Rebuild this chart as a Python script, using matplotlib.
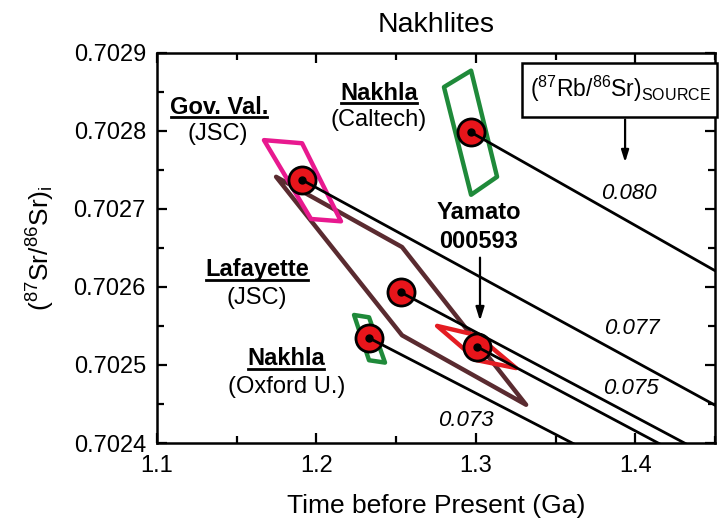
import numpy as np
import matplotlib
matplotlib.use("Agg")
import matplotlib.pyplot as plt
from matplotlib.patches import Polygon, Rectangle
from matplotlib.lines import Line2D

plt.rcParams['font.family'] = ['Liberation Sans', 'DejaVu Sans']
plt.rcParams['mathtext.default'] = 'regular'

# ---------------- data ----------------
sample_names = ["Gov. Val. (JSC)", "Nakhla (Caltech)", "Lafayette (JSC)",
                "Nakhla (Oxford U.)", "Yamato 000593"]
ages = [1.191, 1.297, 1.253, 1.233, 1.301]                 # Ga
sr_initial = [0.702737, 0.702798, 0.702593, 0.7025345, 0.702523]
rb_sr_source = [0.077, 0.080, 0.075, 0.073, 0.075]
decay_const = 0.0142                                       # per Ga

# error envelopes (time, Sr) per sample
govval_box_t = [1.1671, 1.1910, 1.2154, 1.1966]
govval_box_sr = [0.702788, 0.702784, 0.702684, 0.702687]
caltech_box_t = [1.2800, 1.2970, 1.3133, 1.2970]
caltech_box_sr = [0.702856, 0.702877, 0.702741, 0.702718]
lafayette_box_t = [1.1747, 1.2537, 1.3315, 1.2537]
lafayette_box_sr = [0.702741, 0.702651, 0.702449, 0.702538]
oxford_box_t = [1.2236, 1.2330, 1.2430, 1.2330]
oxford_box_sr = [0.702564, 0.702561, 0.702503, 0.702506]
yamato_box_t = [1.2757, 1.3008, 1.3252, 1.3008]
yamato_box_sr = [0.702550, 0.702538, 0.702496, 0.702506]

box_colors = ['#e8198f', '#1f8a3a', '#5a2b30', '#1f8a3a', '#e41c22']

line_labels = ["0.080", "0.077", "0.075", "0.073"]

x_ticks = [1.1, 1.2, 1.3, 1.4]
y_ticks = [0.7024, 0.7025, 0.7026, 0.7027, 0.7028, 0.7029]

# ---------------- figure ----------------
fig = plt.figure(figsize=(7.21, 5.30), dpi=100)
ax = fig.add_axes([157/721, 1-443/530, (715-157)/721, (443-52.7)/530])

ax.set_xlim(1.1, 1.45)
ax.set_ylim(0.7024, 0.7029)

# envelopes
boxes = [(govval_box_t, govval_box_sr), (caltech_box_t, caltech_box_sr),
         (lafayette_box_t, lafayette_box_sr), (oxford_box_t, oxford_box_sr),
         (yamato_box_t, yamato_box_sr)]
order = [2, 0, 1, 3, 4]
for i in order:
    t, s = boxes[i]
    ax.add_patch(Polygon(np.column_stack([t, s]), closed=True, fill=False,
                         edgecolor=box_colors[i], lw=3.2, joinstyle='round',
                         zorder=2))

# circles
ax.plot(ages, sr_initial, linestyle='none', marker='o', markersize=19.5,
        markerfacecolor='#e8151b', markeredgecolor='black',
        markeredgewidth=2.0, zorder=3)

# evolution lines
for t0, s0, rb in zip(ages, sr_initial, rb_sr_source):
    t = np.linspace(t0, 1.6, 50)
    s = s0 - rb * (np.exp(decay_const * t) - np.exp(decay_const * t0))
    ax.plot(t, s, color='black', lw=2.0, zorder=4, solid_capstyle='butt')

# centre dots
ax.plot(ages, sr_initial, linestyle='none', marker='o', markersize=5,
        color='black', zorder=5)

# axes styling
ax.set_xticks(x_ticks)
ax.set_xticklabels([f"{v:.1f}" for v in x_ticks])
ax.set_yticks(y_ticks)
ax.set_yticklabels([f"{v:.4f}" for v in y_ticks])
ax.set_xticks([1.15, 1.25, 1.35, 1.45], minor=True)
ax.set_yticks([0.70245, 0.70255, 0.70265, 0.70275, 0.70285], minor=True)
ax.tick_params(which='both', direction='in', top=True, right=True,
               width=1.6, labelsize=17)
ax.tick_params(which='major', length=7)
ax.tick_params(which='minor', length=5)
ax.tick_params(axis='x', pad=9)
ax.tick_params(axis='y', pad=8)
for sp in ax.spines.values():
    sp.set_linewidth(1.8)

ax.set_xlabel("Time before Present (Ga)", fontsize=19, labelpad=12)
ax.set_ylabel(r"($^{87}$Sr/$^{86}$Sr)$_{i}$", fontsize=19, labelpad=12)
ax.set_title("Nakhlites", fontsize=20.5, pad=15)

# sample labels
bold_kw = dict(fontsize=17, fontweight='bold', ha='center', va='center', zorder=6)
norm_kw = dict(fontsize=17, ha='center', va='center', zorder=6)
underlined = []
underlined.append(ax.text(1.1389, 0.702830, "Gov. Val.", **bold_kw))
ax.text(1.1380, 0.702796, "(JSC)", **norm_kw)
underlined.append(ax.text(1.2393, 0.702848, "Nakhla", **bold_kw))
ax.text(1.2393, 0.702814, "(Caltech)", **norm_kw)
underlined.append(ax.text(1.1627, 0.702622, "Lafayette", **bold_kw))
ax.text(1.1627, 0.702586, "(JSC)", **norm_kw)
underlined.append(ax.text(1.1809, 0.702508, "Nakhla", **bold_kw))
ax.text(1.1812, 0.702472, "(Oxford U.)", **norm_kw)
ax.text(1.3020, 0.702695, "Yamato", **bold_kw)
ax.text(1.3020, 0.702658, "000593", **bold_kw)

ax.annotate("", xy=(1.3026, 0.702553), xytext=(1.3026, 0.702641),
            arrowprops=dict(arrowstyle='-|>,head_length=0.8,head_width=0.25',
                            color='black', lw=1.6), zorder=6)

# line value labels
it_kw = dict(fontsize=16, style='italic', ha='center', va='center', zorder=6)
ax.text(1.3961, 0.702720, line_labels[0], **it_kw)
ax.text(1.3980, 0.702547, line_labels[1], **it_kw)
ax.text(1.3974, 0.702470, line_labels[2], **it_kw)
ax.text(1.2939, 0.702429, line_labels[3], **it_kw)

# source box
ax.add_patch(Rectangle((1.3290, 0.702818), 1.4514 - 1.3290, 0.702887 - 0.702818,
                       facecolor='white', edgecolor='black', lw=1.8,
                       clip_on=False, zorder=7))
ax.text(1.3905, 0.702853, r"($^{87}$Rb/$^{86}$Sr)$_{SOURCE}$", fontsize=16.5,
        ha='center', va='center', zorder=8, clip_on=False)
ax.annotate("", xy=(1.3936, 0.702756), xytext=(1.3936, 0.702818),
            arrowprops=dict(arrowstyle='-|>,head_length=0.7,head_width=0.22',
                            color='black', lw=1.6), zorder=6)

# underline bold labels
fig.canvas.draw()
renderer = fig.canvas.get_renderer()
inv = fig.transFigure.inverted()
for t in underlined:
    bb = t.get_window_extent(renderer)
    y = bb.y0 + 1.5
    p0 = inv.transform((bb.x0 + 1, y))
    p1 = inv.transform((bb.x1 - 1, y))
    fig.add_artist(Line2D([p0[0], p1[0]], [p0[1], p1[1]], color='black',
                          lw=2.0, transform=fig.transFigure))

fig.savefig("out.png", dpi=100)
